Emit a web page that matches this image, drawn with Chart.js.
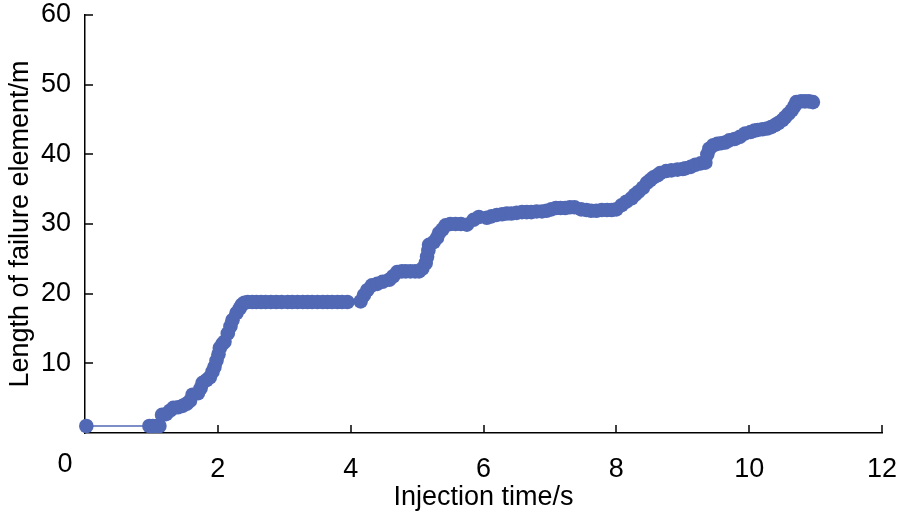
<!DOCTYPE html>
<html>
<head>
<meta charset="utf-8">
<script src="https://cdn.jsdelivr.net/npm/chart.js@4.4.1/dist/chart.umd.min.js"></script>
<style>
html,body{margin:0;padding:0;background:#fff}
#wrap{width:900px;height:518px}
</style>
</head>
<body>
<div id="wrap"><canvas id="mainChart" width="900" height="518"></canvas></div>
<script>

// injection time (s)
const injectionTime=[
0.02,0.97,1.02,1.08,1.12,
1.16,1.22,1.28,1.33,1.40,1.47,1.53,1.58,1.62,1.70,1.74,1.77,1.83,1.88,1.92,1.95,1.98,2.01,2.03,2.07,2.10,2.15,2.19,2.22,2.28,2.33,2.36,2.40,
2.45,2.52,2.58,2.65,2.72,2.80,2.88,2.96,3.05,3.12,3.20,3.28,3.35,3.42,3.50,3.58,3.65,3.72,3.80,3.87,3.95,
4.15,4.20,4.25,4.32,4.40,4.48,4.58,4.64,4.70,4.77,4.83,4.90,4.97,5.03,5.08,5.13,5.15,5.17,5.18,5.25,5.30,5.33,5.38,5.43,5.50,5.58,5.66,5.75,
5.85,5.93,6.05,6.12,6.20,6.28,6.35,6.42,6.50,6.58,6.65,6.72,6.80,6.88,6.95,7.02,7.09,7.16,7.23,7.30,7.37,7.47,7.55,7.62,7.70,7.78,7.86,7.93,8.00,
8.08,8.15,8.23,8.28,8.33,8.40,8.46,8.51,8.56,8.62,8.66,8.75,8.83,8.92,9.00,9.04,9.12,9.19,9.27,9.34,9.37,9.40,9.46,9.52,9.58,9.64,9.70,9.78,9.86,9.94,
10.02,10.08,10.13,10.20,10.27,10.33,10.39,10.44,10.50,10.54,10.59,10.64,10.68,10.71,10.78,10.84,10.90,10.96
]

// length of failure element (m)
const failureLength=[
1.0,1.0,1.0,1.0,1.0,
2.6,2.7,3.2,3.6,3.7,3.9,4.2,4.6,5.5,5.7,6.4,7.2,7.6,8.0,8.8,9.5,10.4,11.3,12.2,12.8,13.1,14.3,15.3,16.2,17.2,17.9,18.4,18.7,
18.8,18.8,18.8,18.8,18.8,18.8,18.8,18.8,18.8,18.8,18.8,18.8,18.8,18.8,18.8,18.8,18.8,18.8,18.8,18.8,18.8,
18.9,19.8,20.5,21.2,21.4,21.7,22.0,22.5,23.1,23.2,23.2,23.2,23.2,23.2,23.6,24.4,25.3,26.2,27.0,27.4,28.0,28.7,29.2,29.8,30.0,30.0,30.0,29.9,
30.6,31.0,30.9,31.1,31.3,31.4,31.5,31.5,31.6,31.7,31.7,31.7,31.8,31.8,31.9,32.1,32.3,32.3,32.3,32.4,32.4,32.1,32.0,31.9,31.9,32.0,32.0,32.0,32.1,
32.7,33.2,33.7,34.2,34.6,35.2,35.9,36.3,36.7,37.0,37.3,37.6,37.7,37.8,37.9,38.0,38.2,38.5,38.7,38.8,40.0,40.8,41.3,41.5,41.6,41.7,42.0,42.2,42.5,43.0,
43.2,43.4,43.5,43.6,43.7,43.9,44.2,44.5,44.9,45.3,45.8,46.3,46.9,47.5,47.6,47.6,47.6,47.5
]

const xTicks=[0,2,4,6,8,10,12]
const yTicks=[0,10,20,30,40,50,60]

const points=injectionTime.map((t,i)=>({x:t,y:failureLength[i]}))

const blue="#5168b5"
const fontFamily="'Liberation Sans', Arial, sans-serif"
const fontSize=27

// inward tick marks and the shared "0" in the corner
const axisExtras={
id:"axisExtras",
afterDraw(chart){
const ctx=chart.ctx
const xs=chart.scales.x
const ys=chart.scales.y
const area=chart.chartArea
ctx.save()
ctx.strokeStyle="#000"
ctx.lineWidth=1.5
xTicks.slice(1).forEach(v=>{
const px=Math.round(xs.getPixelForValue(v))
ctx.beginPath()
ctx.moveTo(px,area.bottom)
ctx.lineTo(px,area.bottom-8)
ctx.stroke()
})
yTicks.slice(1).forEach(v=>{
const py=Math.round(ys.getPixelForValue(v))
ctx.beginPath()
ctx.moveTo(area.left,py)
ctx.lineTo(area.left+8,py)
ctx.stroke()
})
ctx.fillStyle="#000"
ctx.font=fontSize+"px "+fontFamily
ctx.textAlign="center"
ctx.textBaseline="middle"
ctx.fillText("0",area.left-20,area.bottom+32)
ctx.restore()
}
}

new Chart(document.getElementById("mainChart"),{
type:"line",
data:{
datasets:[{
data:points,
borderColor:blue,
backgroundColor:blue,
borderWidth:1.5,
pointRadius:7.3,
pointBackgroundColor:blue,
pointBorderColor:blue,
pointBorderWidth:0,
tension:0,
clip:false
}]
},
options:{
responsive:false,
animation:false,
devicePixelRatio:1,
layout:{padding:{top:15,right:18,left:0,bottom:0}},
plugins:{legend:{display:false},tooltip:{enabled:false}},
scales:{
x:{
type:"linear",
min:0,max:12,
afterBuildTicks:s=>{s.ticks=xTicks.map(v=>({value:v}))},
afterFit:s=>{s.height=85;s.paddingLeft=0;s.paddingRight=0},
grid:{display:false},
border:{display:true,color:"#000",width:1.5},
ticks:{
padding:12,
color:"#000",
font:{family:fontFamily,size:fontSize},
maxRotation:0,
callback:v=>v===0?"":v
},
title:{display:true,text:"Injection time/s",color:"#000",font:{family:fontFamily,size:fontSize},padding:{top:0,bottom:4}}
},
y:{
type:"linear",
min:0,max:60,
afterBuildTicks:s=>{s.ticks=yTicks.map(v=>({value:v}))},
afterFit:s=>{s.width=85;s.paddingTop=0;s.paddingBottom=0},
grid:{display:false},
border:{display:true,color:"#000",width:1.5},
ticks:{
padding:6,
color:"#000",
font:{family:fontFamily,size:fontSize},
callback:v=>v===0?"":v
},
title:{display:true,text:"Length of failure element/m",color:"#000",font:{family:fontFamily,size:fontSize},padding:{top:4,bottom:0}}
}
}
},
plugins:[axisExtras]
})

</script>
</body>
</html>
